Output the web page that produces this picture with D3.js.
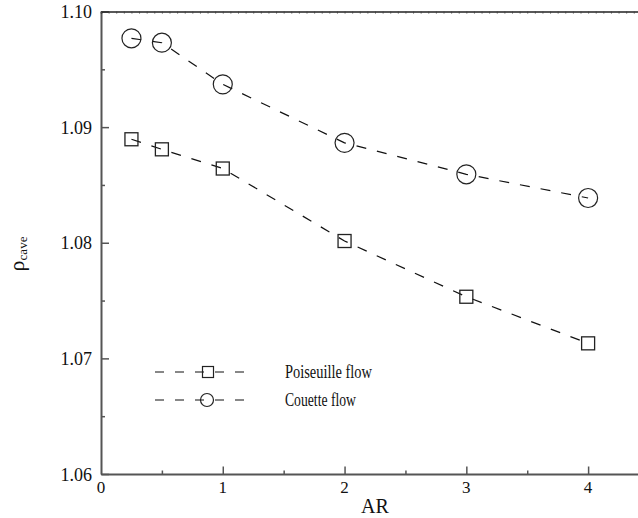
<!DOCTYPE html>
<html>
<head>
<meta charset="utf-8">
<script src="https://cdn.jsdelivr.net/npm/d3@7"></script>
<style>
  html, body { margin: 0; padding: 0; background: #fff; }
  svg { display: block; }
  text { font-family: "Liberation Serif", "DejaVu Serif", serif; fill: #111; }
</style>
</head>
<body>
<svg id="chart" width="638" height="518"></svg>
<script>
// ---- data ----
const arValues = [0.25, 0.5, 1, 2, 3, 4];
const poiseuille = [1.08895, 1.08808, 1.08642, 1.08015, 1.07533, 1.07130];
const couette = [1.09768, 1.09730, 1.09370, 1.08864, 1.08592, 1.08387];
const seriesNames = ["Poiseuille flow", "Couette flow"];
const xTicks = [0, 1, 2, 3, 4];
const yTicks = [1.06, 1.07, 1.08, 1.09, 1.10];
const yTickLabels = ["1.06", "1.07", "1.08", "1.09", "1.10"];

const svg = d3.select("#chart");
const W = 638, H = 518;
const x = d3.scaleLinear().domain([0, 4.5]).range([101, 649]);
const y = d3.scaleLinear().domain([1.06, 1.10]).range([474, 11.5]);

// axes using d3 axis generators
const gLeft = svg.append("g").attr("transform", "translate(101,0)")
  .call(d3.axisRight(y).tickValues(d3.range(1.06, 1.1001, 0.005)).tickSize(0).tickFormat(""));
gLeft.select(".domain").attr("stroke", "#555").attr("stroke-width", 2);
gLeft.selectAll(".tick line").remove();
gLeft.selectAll(".tick").append("line")
  .attr("x2", (d, i) => i % 2 === 0 ? 8 : 4)
  .attr("stroke", "#555").attr("stroke-width", 1.5);

const gBottom = svg.append("g").attr("transform", "translate(0,474)")
  .call(d3.axisTop(x).tickValues(d3.range(0.5, 4.51, 0.5)).tickSize(0).tickFormat(""));
gBottom.select(".domain").attr("stroke", "#555").attr("stroke-width", 2);
gBottom.selectAll(".tick").append("line")
  .attr("y2", (d, i) => i % 2 === 1 ? -7.5 : -3.5)
  .attr("stroke", "#555").attr("stroke-width", 1.5);

const gTop = svg.append("g").attr("transform", "translate(0,11.5)")
  .call(d3.axisBottom(x).tickValues(d3.range(0, 4.5, 0.0625)).tickSize(2).tickFormat(""));
gTop.select(".domain").attr("stroke", "#222").attr("stroke-width", 1.6);
gTop.selectAll(".tick line").attr("stroke", "#444");

// tick labels
svg.append("g").selectAll("text").data(yTicks).join("text")
  .attr("x", 92).attr("y", d => y(d) + 6.5)
  .attr("text-anchor", "end").attr("font-size", 18)
  .text((d, i) => yTickLabels[i]);
svg.append("g").selectAll("text").data(xTicks).join("text")
  .attr("x", d => x(d)).attr("y", 493)
  .attr("text-anchor", "middle").attr("font-size", 17)
  .text(d => d);

// axis titles
svg.append("text").attr("x", 375).attr("y", 513).attr("text-anchor", "middle")
  .attr("font-size", 20).text("AR");
const ylg = svg.append("g").attr("transform", "translate(24,254) rotate(-90)");
const yl = ylg.append("text").attr("x", 0).attr("y", 0)
  .attr("text-anchor", "middle").attr("font-size", 22);
yl.append("tspan").text("ρ");
yl.append("tspan").attr("font-size", 13).attr("dy", 3).text("cave");

// lines
const line = d3.line().x(d => x(d[0])).y(d => y(d[1]));
const pData = arValues.map((a, i) => [a, poiseuille[i]]);
const cData = arValues.map((a, i) => [a, couette[i]]);
[pData, cData].forEach(dat => {
  svg.append("path").datum(dat).attr("d", line)
    .attr("fill", "none").attr("stroke", "#111").attr("stroke-width", 1.2)
    .attr("stroke-dasharray", "10,11");
});

// markers
svg.append("g").selectAll("rect").data(pData).join("rect")
  .attr("x", d => x(d[0]) - 6.5).attr("y", d => y(d[1]) - 6.5)
  .attr("width", 13).attr("height", 13)
  .attr("fill", "none").attr("stroke", "#222").attr("stroke-width", 1.3);
svg.append("g").selectAll("circle").data(cData).join("circle")
  .attr("cx", d => x(d[0])).attr("cy", d => y(d[1])).attr("r", 9.5)
  .attr("fill", "none").attr("stroke", "#222").attr("stroke-width", 1.2);

// legend
const legY = [372, 400];
const legWidths = [87, 71];
legY.forEach((ly, i) => {
  svg.append("line").attr("x1", 155).attr("x2", 246).attr("y1", ly).attr("y2", ly)
    .attr("stroke", "#111").attr("stroke-width", 1.2).attr("stroke-dasharray", "9,11");
  svg.append("text").attr("x", 285).attr("y", ly + 6)
    .attr("font-size", 18).attr("textLength", legWidths[i])
    .attr("lengthAdjust", "spacingAndGlyphs").text(seriesNames[i]);
});
svg.append("rect").attr("x", 208 - 5.5).attr("y", legY[0] - 5.5).attr("width", 11).attr("height", 11)
  .attr("fill", "none").attr("stroke", "#222").attr("stroke-width", 1.2);
svg.append("circle").attr("cx", 207).attr("cy", legY[1]).attr("r", 6.5)
  .attr("fill", "none").attr("stroke", "#222").attr("stroke-width", 1.2);
</script>
</body>
</html>
